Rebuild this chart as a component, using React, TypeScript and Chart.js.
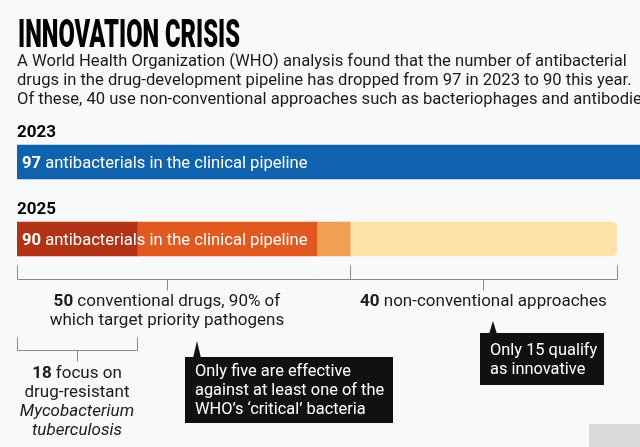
import { useEffect, useRef } from 'react';
import { Chart, registerables } from 'chart.js';

Chart.register(...registerables);

// ---- data ----
const years = ['2023', '2025'];
const pipeline2023 = [97, null];
const tbFocused = [null, 18];
const otherPriority = [null, 27];
const nonPriority = [null, 5];
const nonConventional = [null, 40];
const totals = [97, 90];
const conventionalCount = 50;
const priorityCount = 45;
const nonConventionalCount = 40;
const tbCount = 18;
const innovativeCount = 15;

const titleText = 'INNOVATION CRISIS';
const introLines = [
  'A World Health Organization (WHO) analysis found that the number of antibacterial',
  'drugs in the drug-development pipeline has dropped from 97 in 2023 to 90 this year.',
  'Of these, 40 use non-conventional approaches such as bacteriophages and antibodies.',
];
const barText = ' antibacterials in the clinical pipeline';
const conventionalLines = [' conventional drugs, 90% of', 'which target priority pathogens'];
const nonConventionalText = ' non-conventional approaches';
const tbLines = [' focus on', 'drug-resistant', 'Mycobacterium', 'tuberculosis'];
const criticalLines = ['Only five are effective', 'against at least one of the', 'WHO\u2019s \u2018critical\u2019 bacteria'];
const innovativeLines = [`Only ${innovativeCount} qualify`, 'as innovative'];

const colors = {
  bg: '#f8f9fb',
  blue: '#0f62ad',
  darkRed: '#b23216',
  orange: '#e1591f',
  lightOrange: '#f0a052',
  pale: '#fde3a8',
  ink: '#1a1a1a',
  rule: '#8a8a8a',
};

const SANS = "Roboto, 'Noto Sans', sans-serif";

type Run = { t: string; b?: boolean; i?: boolean };

function font(size: number, b?: boolean, i?: boolean) {
  return `${i ? 'italic ' : ''}${b ? '700' : '400'} ${size}px ${SANS}`;
}

function drawRuns(ctx: CanvasRenderingContext2D, runs: Run[], x: number, y: number, size: number, align: 'left' | 'center', color: string) {
  let total = 0;
  const widths = runs.map((r) => {
    ctx.font = font(size, r.b, r.i);
    const w = ctx.measureText(r.t).width;
    total += w;
    return w;
  });
  let cx = align === 'center' ? x - total / 2 : x;
  ctx.fillStyle = color;
  ctx.textBaseline = 'alphabetic';
  ctx.textAlign = 'left';
  runs.forEach((r, k) => {
    ctx.font = font(size, r.b, r.i);
    ctx.fillText(r.t, cx, y);
    cx += widths[k];
  });
}

const overlay = {
  id: 'overlay',
  beforeDraw(chart: any) {
    const ctx = chart.ctx as CanvasRenderingContext2D;
    ctx.save();
    ctx.fillStyle = colors.bg;
    ctx.fillRect(0, 0, chart.width, chart.height);
    ctx.restore();
  },
  afterDatasetsDraw(chart: any) {
    const ctx = chart.ctx as CanvasRenderingContext2D;
    const xs = chart.scales.x;
    const ys = chart.scales.y;
    const px = (v: number) => xs.getPixelForValue(v);
    ctx.save();

    // Title
    ctx.font = `900 38px ${SANS}`;
    const tw = ctx.measureText(titleText).width;
    ctx.save();
    ctx.translate(18, 47);
    ctx.scale(222 / tw, 1);
    ctx.fillStyle = '#000';
    ctx.textAlign = 'left';
    ctx.fillText(titleText, 0, 0);
    ctx.restore();

    // Intro
    introLines.forEach((l, k) => drawRuns(ctx, [{ t: l }], 17, 66 + k * 19, 16.6, 'left', colors.ink));

    // Year labels + bar texts
    years.forEach((yr, k) => {
      const cy = ys.getPixelForValue(k);
      drawRuns(ctx, [{ t: yr, b: true }], 17, cy - 25, 17, 'left', '#000');
      drawRuns(ctx, [{ t: String(totals[k]), b: true }, { t: barText }], 22, cy + 6, 16.6, 'left', '#ffffff');
    });

    // Bracket 1
    const yb = ys.getPixelForValue(1);
    const top1 = yb + 26;
    const bar1 = top1 + 14;
    ctx.strokeStyle = colors.rule;
    ctx.lineWidth = 1;
    const line = (x1: number, y1: number, x2: number, y2: number) => {
      ctx.beginPath();
      ctx.moveTo(Math.round(x1) + 0.5, Math.round(y1) + 0.5);
      ctx.lineTo(Math.round(x2) + 0.5, Math.round(y2) + 0.5);
      ctx.stroke();
    };
    const end = conventionalCount + nonConventionalCount;
    [0, conventionalCount, end].forEach((v) => line(px(v), top1, px(v), bar1));
    line(px(0), bar1, px(end), bar1);
    const cConv = px(priorityCount / 2);
    const cNon = px(conventionalCount + nonConventionalCount / 2);
    line(cConv, bar1, cConv, bar1 + 11);
    line(cNon, bar1, cNon, bar1 + 11);

    drawRuns(ctx, [{ t: String(conventionalCount), b: true }, { t: conventionalLines[0] }], cConv, 306, 17, 'center', colors.ink);
    drawRuns(ctx, [{ t: conventionalLines[1] }], cConv, 325, 17, 'center', colors.ink);
    drawRuns(ctx, [{ t: String(nonConventionalCount), b: true }, { t: nonConventionalText }], cNon, 306, 17, 'center', colors.ink);

    // Bracket 2
    const top2 = 337;
    const bar2 = 350;
    [0, tbCount].forEach((v) => line(px(v), top2, px(v), bar2));
    line(px(0), bar2, px(tbCount), bar2);
    const cTb = px(tbCount / 2);
    line(cTb, bar2, cTb, bar2 + 11);
    drawRuns(ctx, [{ t: String(tbCount), b: true }, { t: tbLines[0] }], cTb, 378, 17, 'center', colors.ink);
    drawRuns(ctx, [{ t: tbLines[1] }], cTb, 397, 17, 'center', colors.ink);
    drawRuns(ctx, [{ t: tbLines[2], i: true }], cTb, 416, 17, 'center', colors.ink);
    drawRuns(ctx, [{ t: tbLines[3], i: true }], cTb, 435, 17, 'center', colors.ink);

    // Callouts
    const callout = (x0: number, y0: number, w: number, h: number, tipX: number, tipY: number, lines: string[], baseY: number) => {
      ctx.fillStyle = '#111111';
      ctx.fillRect(x0, y0, w, h);
      ctx.beginPath();
      ctx.moveTo(tipX - 4, y0 + 1);
      ctx.lineTo(tipX, tipY);
      ctx.lineTo(tipX + 4, y0 + 1);
      ctx.closePath();
      ctx.fill();
      lines.forEach((l, k) => drawRuns(ctx, [{ t: l }], x0 + 10, baseY + k * 19, 16.4, 'left', '#ffffff'));
    };
    callout(185, 357, 208, 66, 197, 341, criticalLines, 376);
    callout(480, 333, 124, 52, 493, 321, innovativeLines, 355);

    // corner artefact
    ctx.fillStyle = '#dadada';
    ctx.fillRect(589, 424, 51, 23);

    ctx.restore();
  },
};

export default function App() {
  const ref = useRef<HTMLCanvasElement | null>(null);
  useEffect(() => {
    if (!ref.current) return;
    const mk = (label: string, data: (number | null)[], color: string, extra: any = {}) => ({
      label,
      data,
      backgroundColor: color,
      borderWidth: 0,
      barThickness: 34,
      ...extra,
    });
    const chart = new Chart(ref.current, {
      type: 'bar',
      data: {
        labels: years,
        datasets: [
          mk('Pipeline 2023', pipeline2023, colors.blue),
          mk('Tuberculosis-focused', tbFocused, colors.darkRed),
          mk('Other priority-pathogen drugs', otherPriority, colors.orange),
          mk('Non-priority conventional', nonPriority, colors.lightOrange),
          mk('Non-conventional', nonConventional, colors.pale, { borderRadius: 5, borderSkipped: 'start' }),
        ],
      },
      options: {
        indexAxis: 'y',
        animation: false,
        responsive: false,
        events: [],
        layout: { padding: { left: 17, right: 0, top: 123.5, bottom: 169.5 } },
        scales: {
          x: { display: false, stacked: true, min: 0, max: 93.5, grid: { display: false } },
          y: { display: false, stacked: true, grid: { display: false } },
        },
        plugins: {
          legend: { display: false },
          tooltip: { enabled: false },
          title: { display: false },
        },
      },
      plugins: [overlay],
    });
    return () => chart.destroy();
  }, []);
  return (
    <div style={{ position: 'fixed', left: 0, top: 0, width: 640, height: 447, background: colors.bg }}>
      <canvas ref={ref} width={640} height={447} style={{ width: 640, height: 447, display: 'block' }} />
    </div>
  );
}
